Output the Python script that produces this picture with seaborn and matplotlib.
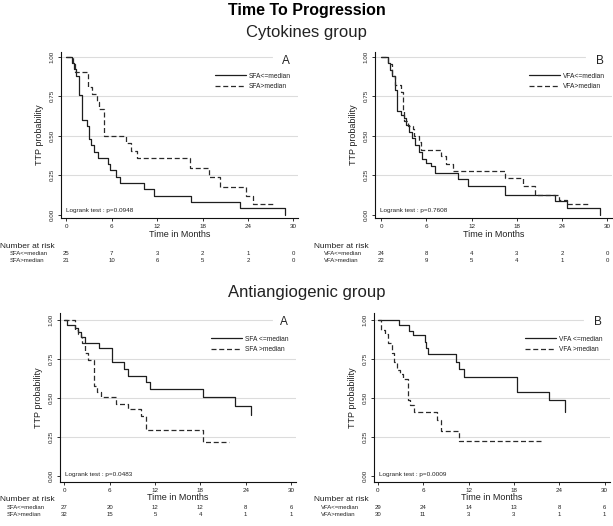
import matplotlib
matplotlib.use('Agg')
import matplotlib.pyplot as plt
import matplotlib.transforms as mtransforms
import seaborn as sns
import pandas as pd

sns.set_theme(style='white')
plt.rcParams['font.family'] = ['Liberation Sans', 'DejaVu Sans']

# ==========================================
# data (Kaplan-Meier steps)
# ==========================================
risk_times = [0, 6, 12, 18, 24, 30]
y_ticks = [0.0, 0.25, 0.5, 0.75, 1.0]
y_tick_labels = ['0.00', '0.25', '0.50', '0.75', '1.00']

# Cytokines group, SFA
cyt_sfa_lo_t = [0, 0.8, 1.0, 1.3, 1.68, 2.03, 2.77, 2.99, 3.26, 3.66, 4.24, 5.56, 5.78, 6.5, 7.1, 10.3, 11.6, 16.5, 22.96, 28.9]
cyt_sfa_lo_s = [1.0, 0.96, 0.92, 0.88, 0.76, 0.60, 0.56, 0.48, 0.44, 0.40, 0.36, 0.32, 0.28, 0.24, 0.20, 0.16, 0.12, 0.08, 0.04, 0.0]
cyt_sfa_hi_t = [0, 0.9, 1.2, 2.9, 3.35, 4.0, 4.3, 5.0, 7.9, 8.6, 9.4, 16.3, 18.9, 20.3, 23.7, 24.7, 27.4]
cyt_sfa_hi_s = [1.0, 0.952, 0.905, 0.81, 0.762, 0.714, 0.667, 0.5, 0.452, 0.405, 0.357, 0.298, 0.241, 0.173, 0.118, 0.066, 0.066]
cyt_sfa_risk_lo = [25, 7, 3, 2, 1, 0]
cyt_sfa_risk_hi = [21, 10, 6, 5, 2, 0]

# Cytokines group, VFA
cyt_vfa_lo_t = [0, 0.9, 1.2, 1.5, 1.8, 2.1, 2.7, 3.0, 3.3, 3.7, 4.05, 4.5, 5.0, 5.4, 6.0, 6.6, 7.15, 10.2, 11.55, 16.4, 23.0, 24.6, 29.0]
cyt_vfa_lo_s = [1.0, 0.958, 0.917, 0.875, 0.79, 0.658, 0.633, 0.61, 0.57, 0.523, 0.485, 0.44, 0.40, 0.35, 0.33, 0.306, 0.264, 0.226, 0.18, 0.127, 0.084, 0.042, 0.0]
cyt_vfa_hi_t = [0, 0.9, 1.5, 1.8, 2.6, 2.9, 3.1, 3.55, 4.2, 4.4, 5.0, 5.3, 7.9, 8.6, 9.5, 16.4, 18.8, 20.4, 23.6, 24.6, 27.6]
cyt_vfa_hi_s = [1.0, 0.955, 0.875, 0.82, 0.775, 0.66, 0.59, 0.56, 0.54, 0.50, 0.46, 0.41, 0.37, 0.32, 0.275, 0.232, 0.18, 0.125, 0.09, 0.065, 0.065]
cyt_vfa_risk_lo = [24, 8, 4, 3, 2, 0]
cyt_vfa_risk_hi = [22, 9, 5, 4, 1, 0]

# Antiangiogenic group, SFA
ang_sfa_lo_t = [0, 0.4, 1.4, 1.77, 2.2, 2.74, 4.64, 6.36, 7.9, 8.4, 10.8, 11.35, 18.35, 22.6, 24.7]
ang_sfa_lo_s = [1.0, 0.97, 0.947, 0.925, 0.893, 0.85, 0.82, 0.73, 0.685, 0.644, 0.60, 0.557, 0.506, 0.452, 0.393]
ang_sfa_hi_t = [0, 1.4, 1.77, 2.2, 2.4, 2.74, 3.2, 3.9, 4.3, 4.9, 6.84, 8.47, 10.2, 10.8, 18.3, 21.8]
ang_sfa_hi_s = [1.0, 0.936, 0.91, 0.893, 0.85, 0.787, 0.744, 0.58, 0.54, 0.506, 0.463, 0.429, 0.382, 0.297, 0.218, 0.218]
ang_sfa_risk_lo = [27, 20, 12, 12, 8, 6]
ang_sfa_risk_hi = [32, 15, 5, 4, 1, 1]

# Antiangiogenic group, VFA
ang_vfa_lo_t = [0, 2.8, 4.1, 4.65, 6.2, 6.4, 6.7, 10.3, 10.8, 11.4, 18.4, 22.6, 24.8]
ang_vfa_lo_s = [1.0, 0.968, 0.932, 0.904, 0.862, 0.82, 0.78, 0.73, 0.685, 0.638, 0.536, 0.485, 0.408]
ang_vfa_hi_t = [0, 0.4, 0.97, 1.4, 1.85, 2.2, 2.5, 2.93, 3.3, 3.97, 4.3, 4.75, 7.8, 8.4, 10.75, 21.9]
ang_vfa_hi_s = [1.0, 0.936, 0.91, 0.85, 0.787, 0.734, 0.681, 0.655, 0.623, 0.49, 0.457, 0.408, 0.36, 0.29, 0.223, 0.223]
ang_vfa_risk_lo = [29, 24, 14, 13, 8, 6]
ang_vfa_risk_hi = [30, 11, 3, 3, 1, 1]

TXT = '#222222'


def km_frame(t, s):
    return pd.DataFrame({'Months': t, 'Prob': s})


def draw_panel(ax, lo_t, lo_s, hi_t, hi_s, leg_labels, row_labels, letter, pval,
               risk_lo, risk_hi, xlim, ylim, tab_y, tab_x, leg_top, top_grid_end):
    # light horizontal grid (the 1.00 line is cut short by the legend box)
    for gy in [0.25, 0.5, 0.75]:
        ax.axhline(gy, color='#dcdcdc', lw=0.8, zorder=0)
    ax.axhline(1.0, xmax=top_grid_end, color='#dcdcdc', lw=0.8, zorder=0)

    sns.lineplot(data=km_frame(lo_t, lo_s), x='Months', y='Prob', ax=ax, estimator=None,
                 drawstyle='steps-post', color='#1e1e1e', lw=0.9, label=leg_labels[0])
    sns.lineplot(data=km_frame(hi_t, hi_s), x='Months', y='Prob', ax=ax, estimator=None,
                 drawstyle='steps-post', color='#2a2a2a', lw=0.9, linestyle=(0, (4, 2.2)),
                 label=leg_labels[1])

    ax.set_xlim(*xlim)
    ax.set_ylim(*ylim)
    ax.set_xticks(risk_times)
    ax.set_xticklabels([str(v) for v in risk_times])
    ax.set_yticks(y_ticks)
    ax.set_yticklabels(y_tick_labels, rotation=90, va='center')
    ax.tick_params(axis='both', length=2.5, width=0.6, labelsize=4.5, colors='#111111',
                   labelcolor=TXT, bottom=True, left=True, direction='out')
    ax.tick_params(axis='y', pad=2)
    ax.tick_params(axis='x', pad=2)
    sns.despine(ax=ax)
    for sp in ['left', 'bottom']:
        ax.spines[sp].set_color('#111111')
        ax.spines[sp].set_linewidth(0.8)

    ax.set_xlabel('Time in Months', fontsize=6.5, color=TXT)
    ax.set_ylabel('TTP probability', fontsize=6.5, color=TXT)
    ax.xaxis.set_label_coords(0.5, tab_y[3])
    ax.yaxis.set_label_coords(-0.07, 0.5)

    leg = ax.legend(loc='upper right', bbox_to_anchor=(0.97, leg_top), frameon=False,
                    fontsize=4.8, handlelength=4.6, handletextpad=0.5, labelspacing=0.55,
                    borderpad=0, borderaxespad=0)
    for t in leg.get_texts():
        t.set_color(TXT)
    ax.text(0.95, 0.945, letter, transform=ax.transAxes, fontsize=8.5, ha='center',
            va='center', color=TXT)
    ax.text(0.02, 0.045, 'Logrank test : p=' + pval, transform=ax.transAxes,
            fontsize=4.6, ha='left', va='center', color=TXT)

    # number at risk table
    blend = mtransforms.blended_transform_factory(ax.transData, ax.transAxes)
    ax.text(tab_x[0], tab_y[0], 'Number at risk', transform=ax.transAxes, fontsize=6,
            ha='left', va='center', color=TXT, clip_on=False)
    for row_y, lab, vals in [(tab_y[1], row_labels[0], risk_lo), (tab_y[2], row_labels[1], risk_hi)]:
        ax.text(tab_x[1], row_y, lab, transform=ax.transAxes, fontsize=4.3,
                ha='left', va='center', color=TXT, clip_on=False)
        for tx, v in zip(risk_times, vals):
            ax.text(tx, row_y, str(v), transform=blend, fontsize=4.3, ha='center',
                    va='center', color=TXT, clip_on=False)


W, H = 613, 526
fig = plt.figure(figsize=(W / 100, H / 100), dpi=100)
fig.patch.set_facecolor('white')


def add_axes(left, right, top, bottom):
    return fig.add_axes([left / W, (H - bottom) / H, (right - left) / W, (bottom - top) / H])


ax1 = add_axes(61, 298, 52, 218)
ax2 = add_axes(375, 612, 52, 218)
ax3 = add_axes(60, 296, 313, 482)
ax4 = add_axes(374, 610, 313, 482)

top_tab_y = [-0.169, -0.211, -0.259, -0.075]
bot_tab_y = [-0.104, -0.148, -0.193, -0.066]

draw_panel(ax1, cyt_sfa_lo_t, cyt_sfa_lo_s, cyt_sfa_hi_t, cyt_sfa_hi_s,
           ['SFA<=median', 'SFA>median'], ['SFA<=median', 'SFA>median'], 'A', '0.0948',
           cyt_sfa_risk_lo, cyt_sfa_risk_hi, (-0.7, 30.6), (-0.021, 1.03),
           top_tab_y, [-0.257, -0.215], 0.875, 0.89)
draw_panel(ax2, cyt_vfa_lo_t, cyt_vfa_lo_s, cyt_vfa_hi_t, cyt_vfa_hi_s,
           ['VFA<=median', 'VFA>median'], ['VFA<=median', 'VFA>median'], 'B', '0.7608',
           cyt_vfa_risk_lo, cyt_vfa_risk_hi, (-0.8, 30.6), (-0.021, 1.03),
           top_tab_y, [-0.257, -0.215], 0.875, 0.886)
draw_panel(ax3, ang_sfa_lo_t, ang_sfa_lo_s, ang_sfa_hi_t, ang_sfa_hi_s,
           ['SFA <=median', 'SFA >median'], ['SFA<=median', 'SFA>median'], 'A', '0.0483',
           ang_sfa_risk_lo, ang_sfa_risk_hi, (-0.57, 30.66), (-0.038, 1.045),
           bot_tab_y, [-0.254, -0.225], 0.865, 0.898)
draw_panel(ax4, ang_vfa_lo_t, ang_vfa_lo_s, ang_vfa_hi_t, ang_vfa_hi_s,
           ['VFA <=median', 'VFA >median'], ['VFA<=median', 'VFA>median'], 'B', '0.0009',
           ang_vfa_risk_lo, ang_vfa_risk_hi, (-0.5, 30.7), (-0.038, 1.045),
           bot_tab_y, [-0.254, -0.225], 0.865, 0.886)

fig.text(0.5, 1 - 10 / H, 'Time To Progression', ha='center', va='center',
         fontsize=11.5, fontweight='bold', color='black')
fig.text(0.5, 1 - 32 / H, 'Cytokines group', ha='center', va='center',
         fontsize=12, color=TXT)
fig.text(0.5, 1 - 292 / H, 'Antiangiogenic group', ha='center', va='center',
         fontsize=12, color=TXT)

fig.savefig('out.png', dpi=100, facecolor='white')
